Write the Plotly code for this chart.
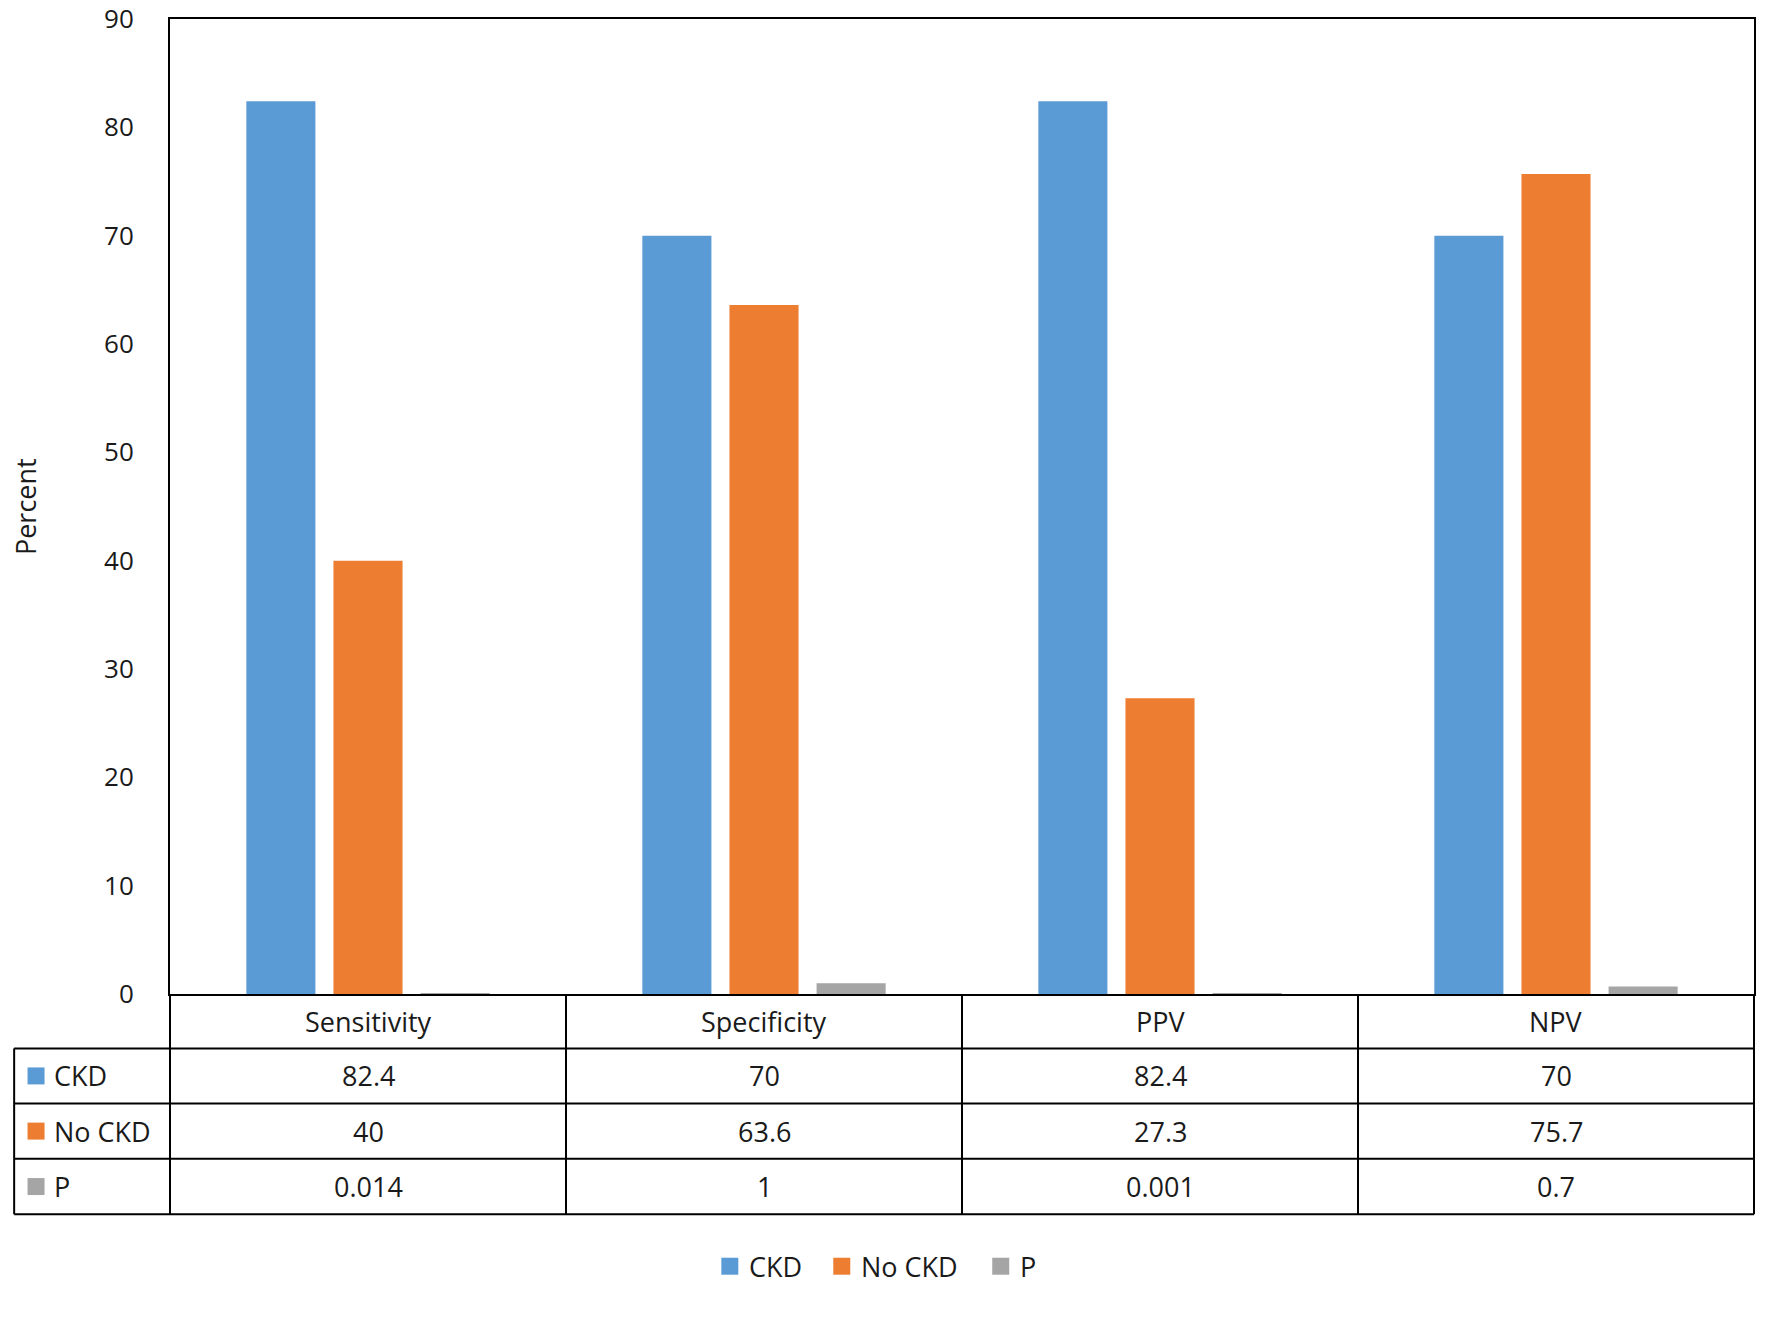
import plotly.graph_objects as go

categories = ["Sensitivity", "Specificity", "PPV", "NPV"]
series_names = ["CKD", "No CKD", "P"]
ckd = [82.4, 70, 82.4, 70]
no_ckd = [40, 63.6, 27.3, 75.7]
p_vals = [0.014, 1, 0.001, 0.7]
y_ticks = [0, 10, 20, 30, 40, 50, 60, 70, 80, 90]
colors = ["#5B9BD5", "#ED7D31", "#A5A5A5"]

W, H = 1772, 1320
L, R, T, B = 169.5, 1754, 18.5, 994.5
FONT = "Open Sans, Lato, Liberation Sans, sans-serif"
FS = 27
TXT = "#1a1a1a"

def px(x):
    return (x - L) / (R - L)

def py(y):
    return (B - y) / (B - T)

series = [ckd, no_ckd, p_vals]
fig = go.Figure()
for name, vals, c in zip(series_names, series, colors):
    fig.add_trace(go.Bar(x=categories, y=vals, name=name, marker_color=c,
                         marker_line_width=0, showlegend=False))

shapes = []
annotations = []
row_edges = [B, 1049, 1104, 1159.5, 1215]
col_w = (R - L) / len(categories)
col_edges = [L + i * col_w for i in range(len(categories) + 1)]
left_edge = 13.6
lw = 2

for yy in row_edges[1:]:
    shapes.append(dict(type="line", xref="paper", yref="paper",
                       x0=px(left_edge), x1=px(R), y0=py(yy), y1=py(yy),
                       line=dict(color="black", width=lw)))
shapes.append(dict(type="line", xref="paper", yref="paper",
                   x0=px(left_edge), x1=px(left_edge), y0=py(row_edges[1]), y1=py(row_edges[-1]),
                   line=dict(color="black", width=lw)))
for xx in col_edges:
    shapes.append(dict(type="line", xref="paper", yref="paper",
                       x0=px(xx), x1=px(xx), y0=py(B), y1=py(row_edges[-1]),
                       line=dict(color="black", width=lw)))

for j, cat in enumerate(categories):
    xc = (col_edges[j] + col_edges[j + 1]) / 2
    yc = (row_edges[0] + row_edges[1]) / 2
    annotations.append(dict(x=px(xc), y=py(yc), xref="paper", yref="paper", text=cat,
                            showarrow=False, font=dict(family=FONT, size=FS, color=TXT),
                            xanchor="center", yanchor="middle"))
for i, (name, vals, c) in enumerate(zip(series_names, series, colors)):
    y0, y1 = row_edges[i + 1], row_edges[i + 2]
    yc = (y0 + y1) / 2
    sq = 17
    shapes.append(dict(type="rect", xref="paper", yref="paper",
                       x0=px(27), x1=px(27 + sq), y0=py(yc - sq / 2), y1=py(yc + sq / 2),
                       fillcolor=c, line=dict(width=0)))
    annotations.append(dict(x=px(51), y=py(yc), xref="paper", yref="paper", text=name,
                            showarrow=False, font=dict(family=FONT, size=FS, color=TXT),
                            xanchor="left", yanchor="middle"))
    for j, v in enumerate(vals):
        xc = (col_edges[j] + col_edges[j + 1]) / 2
        annotations.append(dict(x=px(xc), y=py(yc), xref="paper", yref="paper", text=f"{v:g}",
                                showarrow=False, font=dict(family=FONT, size=FS, color=TXT),
                                xanchor="center", yanchor="middle"))

# bottom legend (manual)
leg_y = 1267
leg_sq_x = [721, 833, 992]
for name, c, x0 in zip(series_names, colors, leg_sq_x):
    sq = 17
    shapes.append(dict(type="rect", xref="paper", yref="paper",
                       x0=px(x0), x1=px(x0 + sq), y0=py(leg_y - sq / 2), y1=py(leg_y + sq / 2),
                       fillcolor=c, line=dict(width=0)))
    annotations.append(dict(x=px(x0 + sq + 9), y=py(leg_y), xref="paper", yref="paper", text=name,
                            showarrow=False, font=dict(family=FONT, size=FS, color=TXT),
                            xanchor="left", yanchor="middle"))

annotations.append(dict(x=px(25), y=py((T + B) / 2), xref="paper", yref="paper", text="Percent",
                        textangle=-90, showarrow=False,
                        font=dict(family=FONT, size=FS, color=TXT),
                        xanchor="center", yanchor="middle"))

fig.update_layout(
    width=W, height=H,
    margin=dict(l=L, r=W - R, t=T, b=H - B, pad=0, autoexpand=False),
    paper_bgcolor="white", plot_bgcolor="white",
    barmode="group", bargap=0.34, bargroupgap=0.207,
    shapes=shapes, annotations=annotations,
    font=dict(family=FONT, size=FS, color=TXT),
    showlegend=False,
    xaxis=dict(showticklabels=False, showline=True, mirror=True, linecolor="black",
               linewidth=2, showgrid=False, ticks="", automargin=False),
    yaxis=dict(range=[0, 90], tickvals=y_ticks, showline=True, mirror=True, linecolor="black",
               linewidth=2, showgrid=False, zeroline=False, ticks="", automargin=False,
               ticklabeloverflow="allow",
               ticklabelstandoff=29, tickfont=dict(family=FONT, size=26, color=TXT)),
)

fig.write_html("out.html")
